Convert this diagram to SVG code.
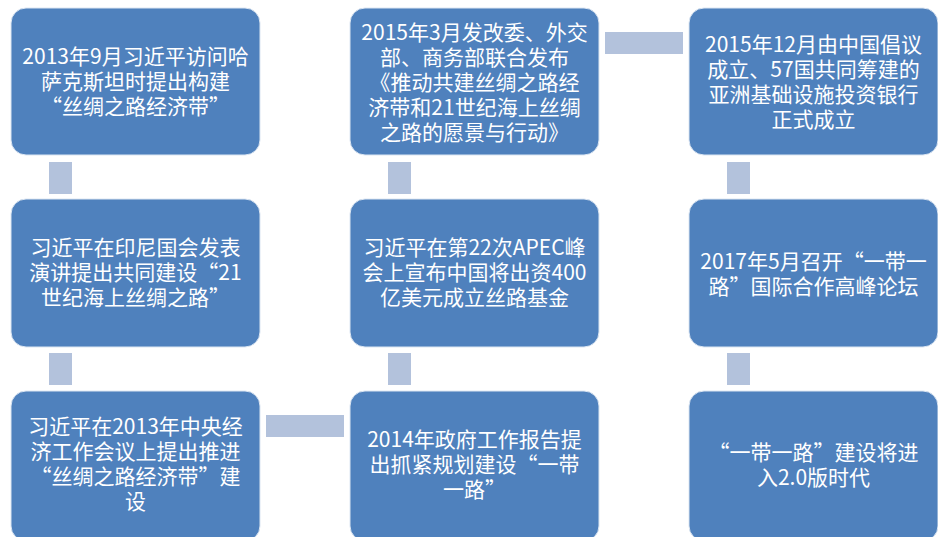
<svg xmlns="http://www.w3.org/2000/svg" width="938" height="537" viewBox="0 0 938 537">
<style>
.box{fill:#4F81BD;stroke:#DCE6F2;stroke-width:1}
.conn{fill:#B3C2DC}
text{font-family:"Noto Sans CJK SC","Noto Sans",sans-serif;font-size:21px;fill:#ffffff;text-anchor:middle}
</style>
<rect width="938" height="537" fill="#ffffff"/>
<g id="connectors">
<rect class="conn" x="49" y="162" width="23" height="32"/>
<rect class="conn" x="49" y="353" width="23" height="32"/>
<rect class="conn" x="388" y="162" width="23" height="32"/>
<rect class="conn" x="388" y="353" width="23" height="32"/>
<rect class="conn" x="727" y="162" width="23" height="32"/>
<rect class="conn" x="727" y="353" width="23" height="32"/>
<rect class="conn" x="605" y="32" width="78" height="22"/>
<rect class="conn" x="266" y="415" width="78" height="22"/>
</g>
<g id="n1">
<rect class="box" x="11" y="8" width="249" height="147" rx="15"/>
<text x="135.5" y="64"><tspan x="135.5">2013年9月习近平访问哈</tspan><tspan x="135.5" dy="25">萨克斯坦时提出构建</tspan><tspan x="135.5" dy="25">“丝绸之路经济带”</tspan></text>
</g>
<g id="n2">
<rect class="box" x="11" y="199" width="249" height="148" rx="15"/>
<text x="135.5" y="255"><tspan x="135.5">习近平在印尼国会发表</tspan><tspan x="135.5" dy="25">演讲提出共同建设“21</tspan><tspan x="135.5" dy="25">世纪海上丝绸之路”</tspan></text>
</g>
<g id="n3">
<rect class="box" x="11" y="391" width="249" height="150" rx="15"/>
<text x="135.5" y="434"><tspan x="135.5">习近平在2013年中央经</tspan><tspan x="135.5" dy="25">济工作会议上提出推进</tspan><tspan x="135.5" dy="25">“丝绸之路经济带”建</tspan><tspan x="135.5" dy="25">设</tspan></text>
</g>
<g id="n4">
<rect class="box" x="350" y="391" width="249" height="150" rx="15"/>
<text x="474.5" y="447"><tspan x="474.5">2014年政府工作报告提</tspan><tspan x="474.5" dy="25">出抓紧规划建设“一带</tspan><tspan x="474.5" dy="25">一路”</tspan></text>
</g>
<g id="n5">
<rect class="box" x="350" y="199" width="249" height="148" rx="15"/>
<text x="474.5" y="255"><tspan x="474.5">习近平在第22次APEC峰</tspan><tspan x="474.5" dy="25">会上宣布中国将出资400</tspan><tspan x="474.5" dy="25">亿美元成立丝路基金</tspan></text>
</g>
<g id="n6">
<rect class="box" x="350" y="8" width="249" height="147" rx="15"/>
<text x="474.5" y="40"><tspan x="474.5">2015年3月发改委、外交</tspan><tspan x="474.5" dy="25">部、商务部联合发布</tspan><tspan x="474.5" dy="25">《推动共建丝绸之路经</tspan><tspan x="474.5" dy="25">济带和21世纪海上丝绸</tspan><tspan x="474.5" dy="25">之路的愿景与行动》</tspan></text>
</g>
<g id="n7">
<rect class="box" x="689" y="8" width="249" height="147" rx="15"/>
<text x="813.5" y="52"><tspan x="813.5">2015年12月由中国倡议</tspan><tspan x="813.5" dy="25">成立、57国共同筹建的</tspan><tspan x="813.5" dy="25">亚洲基础设施投资银行</tspan><tspan x="813.5" dy="25">正式成立</tspan></text>
</g>
<g id="n8">
<rect class="box" x="689" y="199" width="249" height="148" rx="15"/>
<text x="813.5" y="269"><tspan x="813.5">2017年5月召开“一带一</tspan><tspan x="813.5" dy="25">路”国际合作高峰论坛</tspan></text>
</g>
<g id="n9">
<rect class="box" x="689" y="391" width="249" height="150" rx="15"/>
<text x="813.5" y="460"><tspan x="813.5">“一带一路”建设将进</tspan><tspan x="813.5" dy="25">入2.0版时代</tspan></text>
</g>
</svg>
